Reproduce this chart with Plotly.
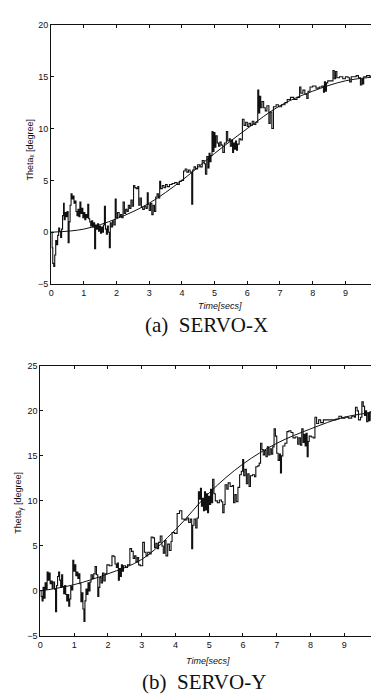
import plotly.graph_objects as go

# ---------------- data ----------------
ref_t = [0, 1, 2, 3, 4, 5, 6, 7, 8, 9, 10]
ref_x = [0, 0.3, 1.3, 2.8, 5.0, 7.6, 10.0, 12.2, 13.6, 14.6, 15.0]
ref_y = [0, 0.7, 1.9, 3.5, 6.8, 10.9, 14.1, 16.4, 18.0, 19.3, 19.9]

meas_x_t = [0.00, 0.03, 0.05, 0.08, 0.11, 0.14, 0.17, 0.20, 0.23, 0.26, 0.29, 0.32, 0.35, 0.38, 0.40,
            0.43, 0.46, 0.49, 0.52, 0.55, 0.58, 0.61, 0.64, 0.67, 0.70, 0.73, 0.76, 0.79, 0.82, 0.85,
            0.88, 0.91, 0.94, 0.97, 1.00, 1.03, 1.06, 1.09, 1.12, 1.15, 1.18, 1.21, 1.24, 1.27, 1.30,
            1.33, 1.36, 1.39, 1.42, 1.45, 1.48, 1.51, 1.54, 1.57, 1.60, 1.63, 1.66, 1.69, 1.72, 1.75,
            1.78, 1.81, 1.84, 1.88, 1.92, 1.96, 1.99, 2.03, 2.08, 2.12, 2.16, 2.20, 2.24, 2.28, 2.32,
            2.36, 2.40, 2.44, 2.48, 2.52, 2.56, 2.60, 2.65, 2.68, 2.72, 2.76, 2.80, 2.85, 2.90, 2.94,
            2.97, 3.00, 3.04, 3.08, 3.12, 3.16, 3.20, 3.24, 3.28, 3.32, 3.35, 3.40, 3.45, 3.50, 3.55,
            3.62, 3.70, 3.78, 3.85, 3.92, 3.98, 4.05, 4.10, 4.15, 4.20, 4.25, 4.30, 4.33, 4.37, 4.42,
            4.48, 4.55, 4.62, 4.68, 4.72, 4.76, 4.80, 4.83, 4.86, 4.89, 4.92, 4.95, 4.98, 5.01, 5.04,
            5.08, 5.12, 5.16, 5.20, 5.25, 5.30, 5.36, 5.40, 5.45, 5.48, 5.52, 5.55, 5.58, 5.61, 5.64,
            5.67, 5.70, 5.75, 5.80, 5.85, 5.90, 5.95, 6.00, 6.05, 6.10, 6.15, 6.20, 6.26, 6.32, 6.35,
            6.38, 6.41, 6.45, 6.50, 6.55, 6.60, 6.66, 6.70, 6.75, 6.80, 6.88, 6.95, 7.05, 7.15, 7.22,
            7.32, 7.42, 7.52, 7.60, 7.64, 7.70, 7.76, 7.82, 7.86, 7.92, 8.00, 8.10, 8.20, 8.28, 8.33,
            8.36, 8.39, 8.42, 8.46, 8.55, 8.62, 8.66, 8.70, 8.74, 8.82, 8.92, 9.00, 9.08, 9.13, 9.18,
            9.25, 9.33, 9.40, 9.46, 9.50, 9.53, 9.56, 9.65, 9.75, 9.85, 9.92, 9.96, 10.0]
meas_x_v = [0.0, -1.5, -3.0, -3.3, -2.2, -0.8, -1.2, -0.3, 0.4, 0.1, -0.5, 0.3, 1.6, 2.8, 1.2,
            1.9, 1.5, 2.0, -1.0, 1.0, 2.6, 3.7, 3.2, 3.5, 2.8, 3.0, 2.0, 1.6, 2.2, 1.5,
            2.9, 1.8, 2.3, 1.4, 1.9, 1.2, 1.7, 1.4, 2.7, 1.3, 1.0, 0.6, 1.1, 0.5, 0.9,
            -1.6, 0.7, 0.3, 0.8, 0.1, 0.6, -0.1, 0.5, 0.0, 0.7, 2.5, 0.3, -0.2, 0.6, 0.0,
            -1.5, 0.9, 0.5, 1.1, 0.7, 3.2, 1.4, 1.9, 1.5, 1.7, 1.4, 2.9, 1.8, 2.2, 2.0,
            2.6, 2.3, 3.1, 2.5, 4.5, 4.3, 4.2, 4.4, 2.6, 3.3, 2.4, 2.2, 2.5, 2.3, 3.8,
            2.7, 2.1, 2.8, 1.7, 2.6, 2.0, 3.4, 3.7, 3.3, 4.9, 4.2, 4.5, 4.3, 4.6, 4.4,
            4.6, 4.7, 4.8, 4.6, 4.9, 5.0, 5.9, 6.1, 5.8, 6.0, 5.8, 2.7, 6.0, 6.3, 6.1,
            6.5, 6.3, 6.9, 6.6, 5.6, 7.3, 6.2, 7.6, 6.8, 7.4, 9.7, 7.8, 9.6, 8.2, 9.3,
            8.6, 8.3, 8.7, 8.4, 7.7, 8.6, 9.7, 8.8, 9.0, 8.3, 8.9, 7.7, 8.6, 8.0, 8.8,
            7.9, 8.5, 9.0, 8.9, 10.9, 10.3, 10.6, 10.2, 10.5, 10.3, 10.7, 10.4, 10.6, 13.7, 11.5,
            13.1, 12.0, 12.6, 12.0, 11.7, 12.2, 10.5, 11.6, 10.0, 12.1, 12.3, 12.1, 12.3, 12.5, 12.8,
            13.0, 12.8, 13.0, 14.0, 13.4, 13.7, 13.3, 12.9, 13.6, 14.0, 14.1, 13.9, 14.0, 14.1, 13.5,
            14.5, 13.6, 14.4, 14.6, 14.6, 15.6, 14.8, 15.5, 14.9, 15.0, 14.8, 15.0, 14.9, 14.5, 15.0,
            15.0, 15.1, 14.9, 14.2, 14.8, 14.3, 15.0, 15.1, 15.0, 15.1, 15.6, 15.0, 15.3]

meas_y_t = [0.00, 0.02, 0.05, 0.08, 0.11, 0.14, 0.17, 0.20, 0.23, 0.26, 0.29, 0.32, 0.35, 0.38, 0.42,
            0.45, 0.48, 0.51, 0.54, 0.57, 0.60, 0.63, 0.66, 0.69, 0.72, 0.75, 0.78, 0.81, 0.84, 0.87,
            0.90, 0.93, 0.96, 0.99, 1.02, 1.05, 1.08, 1.11, 1.14, 1.17, 1.20, 1.23, 1.26, 1.29, 1.32,
            1.35, 1.38, 1.41, 1.44, 1.47, 1.50, 1.54, 1.58, 1.62, 1.66, 1.70, 1.73, 1.76, 1.80, 1.84,
            1.88, 1.92, 1.97, 2.04, 2.12, 2.18, 2.21, 2.25, 2.28, 2.31, 2.34, 2.37, 2.40, 2.43, 2.46,
            2.52, 2.58, 2.65, 2.70, 2.75, 2.79, 2.83, 2.87, 2.91, 2.96, 3.03, 3.08, 3.13, 3.18, 3.24,
            3.28, 3.33, 3.38, 3.42, 3.46, 3.50, 3.55, 3.60, 3.64, 3.68, 3.72, 3.77, 3.82, 3.87, 3.90,
            3.97, 4.05, 4.12, 4.19, 4.26, 4.34, 4.39, 4.44, 4.48, 4.51, 4.55, 4.60, 4.64, 4.68, 4.71,
            4.74, 4.77, 4.80, 4.83, 4.86, 4.89, 4.92, 4.95, 4.98, 5.01, 5.04, 5.07, 5.10, 5.14, 5.18,
            5.24, 5.30, 5.36, 5.40, 5.44, 5.47, 5.52, 5.56, 5.62, 5.68, 5.72, 5.76, 5.80, 5.85, 5.90,
            5.95, 5.99, 6.02, 6.06, 6.10, 6.14, 6.18, 6.22, 6.28, 6.34, 6.38, 6.44, 6.48, 6.52, 6.56,
            6.60, 6.64, 6.68, 6.72, 6.76, 6.80, 6.84, 6.88, 6.92, 6.96, 7.00, 7.04, 7.08, 7.11, 7.14,
            7.18, 7.24, 7.30, 7.36, 7.42, 7.48, 7.55, 7.62, 7.66, 7.70, 7.74, 7.78, 7.81, 7.84, 7.87,
            7.90, 7.93, 7.96, 8.02, 8.08, 8.13, 8.18, 8.24, 8.30, 8.38, 8.46, 8.55, 8.65, 8.75, 8.84,
            8.92, 9.02, 9.12, 9.22, 9.30, 9.33, 9.38, 9.42, 9.48, 9.52, 9.56, 9.60, 9.63, 9.66, 9.70,
            9.73, 9.76, 9.80, 9.84, 9.88, 9.92, 9.96, 10.0]
meas_y_v = [0.0, -0.6, -1.1, 0.4, -0.8, 0.9, 0.2, 2.1, 1.2, 2.0, 0.8, 1.1, 0.3, 1.0, 0.2,
            -2.3, 0.6, 1.6, 2.1, 1.2, 0.4, 1.8, 0.5, -0.3, 0.6, -0.4, -1.1, -0.4, -1.7, -0.9,
            0.5, 0.1, 3.4, 2.2, 2.9, 1.7, 2.1, 1.4, 1.9, 0.8, -1.2, -0.2, -2.0, -3.4, -1.1,
            0.2, -0.4, 0.9, 0.0, 1.0, 1.8, 1.4, 1.9, 2.7, 1.8, -0.6, 0.4, 1.5, 0.9, 2.0,
            1.1, 1.9, 2.9, 2.8, 3.9, 3.8, 3.0, 2.6, 3.1, 1.2, 2.5, 1.6, 2.9, 2.2, 2.8,
            2.6, 2.9, 4.7, 4.4, 3.6, 3.9, 3.2, 3.7, 2.9, 2.8, 5.4, 4.3, 3.9, 4.3, 4.1,
            6.0, 5.9, 4.8, 5.3, 4.7, 5.4, 6.1, 5.0, 4.2, 5.6, 3.9, 5.2, 4.5, 5.5, 6.5,
            6.4, 8.6, 8.9, 8.0, 7.9, 8.1, 7.6, 8.0, 4.7, 7.3, 8.0, 7.0, 8.1, 11.0, 10.2,
            11.4, 9.4, 10.3, 8.9, 11.0, 9.0, 10.8, 8.7, 10.5, 9.6, 11.3, 9.8, 12.4, 10.8, 10.0,
            9.8, 10.1, 9.9, 8.7, 9.6, 11.8, 11.3, 12.0, 11.6, 11.7, 9.8, 10.7, 9.9, 11.5, 12.9,
            13.3, 14.6, 12.8, 13.5, 11.9, 13.0, 11.6, 12.8, 12.9, 12.7, 13.8, 13.9, 14.2, 16.4, 15.7,
            15.1, 15.6, 14.9, 16.0, 15.1, 15.8, 15.2, 16.0, 18.0, 17.2, 15.3, 14.5, 15.2, 13.1, 15.0,
            16.1, 16.4, 17.7, 17.8, 17.6, 17.0, 17.1, 16.3, 17.0, 16.2, 18.0, 16.5, 17.4, 16.1, 17.5,
            14.9, 16.6, 17.2, 17.1, 17.0, 19.3, 18.6, 19.0, 18.7, 19.0, 19.0, 19.0, 19.0, 19.1, 19.4,
            19.2, 19.3, 19.2, 19.4, 19.3, 20.4, 20.0, 19.0, 19.3, 21.0, 20.5, 19.5, 20.0, 18.8, 19.8,
            18.9, 19.9, 19.0, 18.4, 19.6, 20.0, 19.6, 20.1]

x_ticks = [0, 1, 2, 3, 4, 5, 6, 7, 8, 9, 10]
yx_ticks = [-5, 0, 5, 10, 15, 20]
yy_ticks = [-5, 0, 5, 10, 15, 20, 25]

# ---------------- figure ----------------
W, H = 379, 699
fig = go.Figure()

line_meas = dict(color="#111111", width=1.1, shape="hv")
line_ref = dict(color="#111111", width=1.0, shape="spline", smoothing=1.0)

fig.add_trace(go.Scatter(x=meas_x_t, y=meas_x_v, mode="lines", line=line_meas, xaxis="x", yaxis="y", showlegend=False))
fig.add_trace(go.Scatter(x=ref_t, y=ref_x, mode="lines", line=line_ref, xaxis="x", yaxis="y", showlegend=False))
fig.add_trace(go.Scatter(x=meas_y_t, y=meas_y_v, mode="lines", line=line_meas, xaxis="x2", yaxis="y2", showlegend=False))
fig.add_trace(go.Scatter(x=ref_t, y=ref_y, mode="lines", line=line_ref, xaxis="x2", yaxis="y2", showlegend=False))

tickfont = dict(family="Liberation Sans, Arial, sans-serif", size=9, color="#111111")
common = dict(showline=True, linecolor="#111111", linewidth=1, mirror="ticks", ticks="inside",
              ticklen=3, tickcolor="#111111", showgrid=False, zeroline=False, tickfont=tickfont,
              ticklabeloverflow="allow")

def px_x(p):
    return p / W

def px_y(p):
    return 1 - p / H

fig.update_layout(
    width=W, height=H, margin=dict(l=0, r=0, t=0, b=0),
    paper_bgcolor="white", plot_bgcolor="white",
    xaxis=dict(domain=[px_x(41), px_x(375)], range=[0, 10], tickvals=x_ticks, anchor="y", **common),
    yaxis=dict(domain=[px_y(275), px_y(12)], range=[-5, 20], tickvals=yx_ticks, anchor="x", **common),
    xaxis2=dict(domain=[px_x(30), px_x(375)], range=[0, 10], tickvals=x_ticks, anchor="y2", **common),
    yaxis2=dict(domain=[px_y(632), px_y(358)], range=[-5, 25], tickvals=yy_ticks, anchor="x2", **common),
)

lab = dict(family="Liberation Sans, Arial, sans-serif", size=9, color="#111111")
cap = dict(family="Liberation Serif, Times New Roman, serif", size=21, color="#111111")
ann = [
    dict(text="Theta<sub>x</sub> [degree]", x=px_x(19), y=px_y(139), textangle=-90, font=lab),
    dict(text="<i>Time[secs]</i>", x=px_x(213), y=px_y(297), font=lab),
    dict(text="(a)\u00a0\u00a0SERVO-X", x=px_x(200), y=px_y(317), font=cap),
    dict(text="Theta<sub>y</sub> [degree]", x=px_x(8), y=px_y(497), textangle=-90, font=lab),
    dict(text="<i>Time[secs]</i>", x=px_x(201), y=px_y(657), font=lab),
    dict(text="(b)\u00a0\u00a0SERVO-Y", x=px_x(197), y=px_y(679), font=cap),
]
for a in ann:
    a.update(xref="paper", yref="paper", showarrow=False, xanchor="center", yanchor="middle")
fig.update_layout(annotations=ann)

fig.write_html("out.html")
